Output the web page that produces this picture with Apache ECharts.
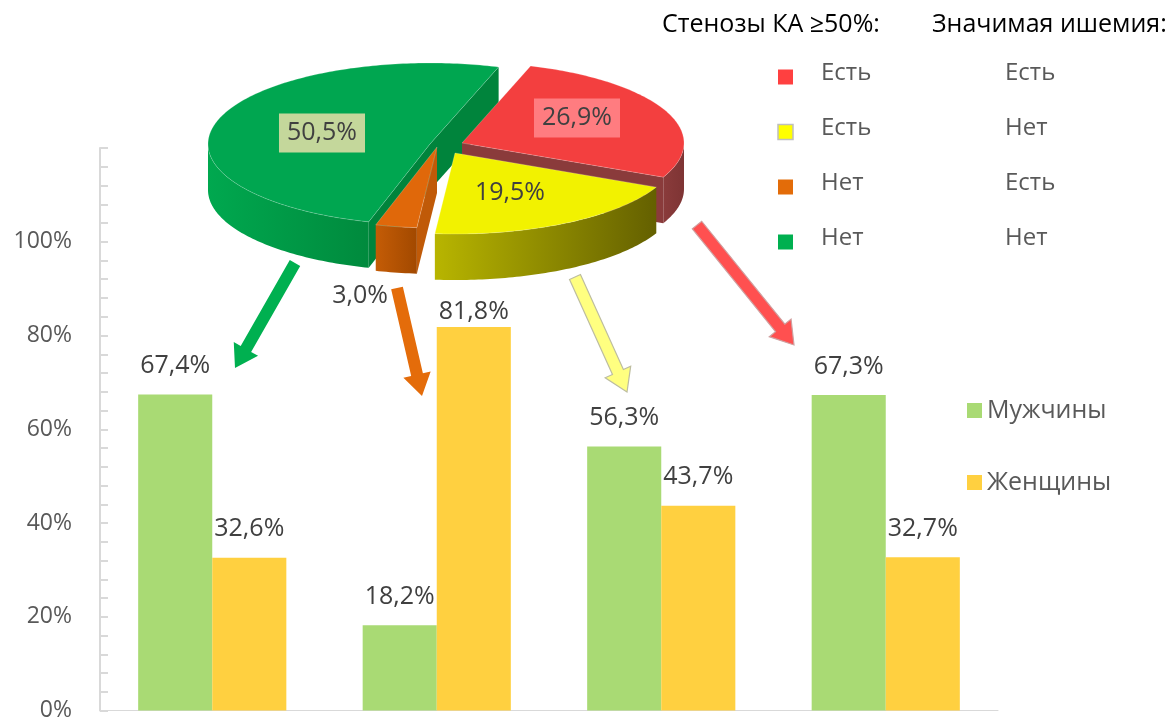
<!DOCTYPE html>
<html><head><meta charset="utf-8">
<script src="https://cdn.jsdelivr.net/npm/echarts@6/dist/echarts.min.js"></script>
<style>html,body{margin:0;padding:0;background:#fff}#c{width:1171px;height:722px}</style>
</head><body><div id="c"></div>
<script>
// ---------- DATA ----------
const categories = ['Нет / Нет', 'Нет / Есть', 'Есть / Нет', 'Есть / Есть'];
const men = [67.4, 18.2, 56.3, 67.3];
const women = [32.6, 81.8, 43.7, 32.7];
const seriesNames = ['Мужчины', 'Женщины'];
const yTickLabels = ['0%', '20%', '40%', '60%', '80%', '100%'];

const pieValues = [26.9, 19.5, 3.0, 50.5];
const pieStenosis = ['Есть', 'Есть', 'Нет', 'Нет'];
const pieIschemia = ['Есть', 'Нет', 'Есть', 'Нет'];
const tableHeaders = ['Стенозы КА ≥50%:', 'Значимая ишемия:'];

// ---------- STYLE ----------
const FONT = '"Open Sans", "Noto Sans", sans-serif';
const fmt = v => v.toFixed(1).replace('.', ',') + '%';
const PIE = {
  R: 222, r: 81, depth: 46, start: 18,
  slices: [
    {cx: 462, cy: 143, top: '#F33F3F', wall: ['#8A3B3B', '#7E3434'], side: '#8A3B3B', label: [115, -25], labelBg: '#FF7C80', z: 2},
    {cx: 455, cy: 153, top: '#F2F200', wall: ['#B8B500', '#646000'], side: '#8E8C00', label: [55, 40], labelBg: null, z: 3},
    {cx: 437, cy: 147, top: '#E0680A', wall: ['#C45C06', '#A24900'], side: '#C05A08', label: [-77, 149], labelBg: null, z: 4},
    {cx: 430, cy: 144, top: '#00A650', wall: ['#00A84F', '#008A3D'], side: '#00843C', label: [-108, -11], labelBg: '#C4D79B', z: 1}
  ]
};
const legendColors = ['#FF4040', '#FFFF00', '#E36C09', '#00B050'];
const ARROWS = [
  {from: [295, 263], to: [235, 368], color: '#00B050', stroke: null},
  {from: [397, 288], to: [422, 396], color: '#E46C0A', stroke: null},
  {from: [575, 277], to: [627, 392], color: '#FFFF80', stroke: '#BDBDA0'},
  {from: [697, 225], to: [794, 345], color: '#FF5050', stroke: '#D0A0A0'}
];

function arrowPoints(a) {
  const dx = a.to[0] - a.from[0], dy = a.to[1] - a.from[1];
  const L = Math.hypot(dx, dy), ux = dx / L, uy = dy / L, nx = -uy, ny = ux;
  const w = 6, hw = 14, hl = 22;
  const bx = a.to[0] - ux * hl, by = a.to[1] - uy * hl;
  return [
    [a.from[0] + nx * w, a.from[1] + ny * w],
    [bx + nx * w, by + ny * w],
    [bx + nx * hw, by + ny * hw],
    a.to,
    [bx - nx * hw, by - ny * hw],
    [bx - nx * w, by - ny * w],
    [a.from[0] - nx * w, a.from[1] - ny * w]
  ];
}

function renderPie(params, api) {
  const i = params.dataIndex;
  const total = pieValues.reduce((a, b) => a + b, 0);
  let cum = 0; for (let k = 0; k < i; k++) cum += pieValues[k];
  const v = api.value(0);
  const a0 = PIE.start + 360 * cum / total, a1 = a0 + 360 * v / total;
  const s = PIE.slices[i], D = PIE.depth;
  const P = (deg, dz) => { const t = deg * Math.PI / 180; return [s.cx + PIE.R * Math.sin(t), s.cy - PIE.r * Math.cos(t) + (dz || 0)]; };
  const C = [s.cx, s.cy], Cd = [s.cx, s.cy + D];
  const base = s.z * 10;
  const ch = [];
  if (Math.sin(a0 * Math.PI / 180) < 0) ch.push({type: 'polygon', z2: base + 1, shape: {points: [C, P(a0), P(a0, D), Cd]}, style: {fill: s.side}});
  if (Math.sin(a1 * Math.PI / 180) > 0) ch.push({type: 'polygon', z2: base + 1, shape: {points: [C, P(a1), P(a1, D), Cd]}, style: {fill: s.side}});
  [[90, 270], [450, 630]].forEach(([lo, hi]) => {
    const b0 = Math.max(a0, lo), b1 = Math.min(a1, hi);
    if (b1 > b0) {
      const up = [], dn = [];
      for (let d = b0; d < b1; d += 1) { up.push(P(d)); dn.push(P(d, D)); }
      up.push(P(b1)); dn.push(P(b1, D));
      ch.push({type: 'polygon', z2: base + 2, shape: {points: up.concat(dn.reverse())},
        style: {fill: new echarts.graphic.LinearGradient(0, 0, 1, 0, [{offset: 0, color: s.wall[0]}, {offset: 1, color: s.wall[1]}])}});
    }
  });
  const top = [C];
  for (let d = a0; d < a1; d += 1) top.push(P(d));
  top.push(P(a1));
  ch.push({type: 'polygon', z2: base + 3, shape: {points: top}, style: {fill: s.top, stroke: 'rgba(255,255,255,0.35)', lineWidth: 0.6}});
  const ts = {text: fmt(v), x: s.cx + s.label[0], y: s.cy + s.label[1], align: 'center', verticalAlign: 'middle',
    fill: '#404040', font: '25px ' + FONT};
  if (s.labelBg) { ts.backgroundColor = s.labelBg; ts.padding = [8, 8, 6, 8]; }
  ch.push({type: 'text', z2: 200, style: ts});
  return {type: 'group', children: ch};
}

const graphics = [];
ARROWS.forEach(a => graphics.push({type: 'polygon', z: 10, shape: {points: arrowPoints(a)},
  style: {fill: a.color, stroke: a.stroke || a.color, lineWidth: a.stroke ? 1.2 : 0}}));
graphics.push({type: 'text', left: 662, top: 12, style: {text: tableHeaders[0], fill: '#000', font: '25px ' + FONT}});
graphics.push({type: 'text', left: 932, top: 12, style: {text: tableHeaders[1], fill: '#000', font: '25px ' + FONT}});
pieStenosis.forEach((t, i) => {
  const yc = 77 + i * 55;
  graphics.push({type: 'rect', shape: {x: 778, y: yc - 7.5, width: 15, height: 15},
    style: {fill: legendColors[i], stroke: i === 1 ? '#BFBFBF' : null, lineWidth: i === 1 ? 1.5 : 0}});
  graphics.push({type: 'text', left: 821, top: yc - 16, style: {text: t, fill: '#595959', font: '24px ' + FONT}});
  graphics.push({type: 'text', left: 1005, top: yc - 16, style: {text: pieIschemia[i], fill: '#595959', font: '24px ' + FONT}});
});

const chart = echarts.init(document.getElementById('c'));
chart.setOption({
  animation: false,
  backgroundColor: '#fff',
  textStyle: {fontFamily: FONT},
  grid: {left: 100, right: 173, top: 148, bottom: 6, containLabel: false},
  legend: {
    data: seriesNames, orient: 'vertical', left: 962, top: 393, itemGap: 47,
    itemWidth: 15, itemHeight: 15, icon: 'rect',
    textStyle: {fontSize: 25, color: '#595959', fontFamily: FONT}
  },
  xAxis: {
    type: 'category', data: categories,
    axisLine: {show: true, lineStyle: {color: '#D9D9D9', width: 1}},
    axisTick: {show: false}, axisLabel: {show: false}
  },
  yAxis: {
    type: 'value', min: 0, max: 120, interval: 20,
    axisLine: {show: true, lineStyle: {color: '#D9D9D9', width: 2}},
    axisTick: {show: true, inside: true, length: 8, lineStyle: {color: '#D9D9D9', width: 2}},
    minorTick: {show: true, splitNumber: 5, length: 8, lineStyle: {color: '#D9D9D9', width: 2}},
    splitLine: {show: false},
    axisLabel: {margin: 28, fontSize: 23, color: '#595959', fontFamily: FONT,
      formatter: v => yTickLabels[v / 20] || ''}
  },
  graphic: graphics,
  series: [
    {
      name: seriesNames[0], type: 'bar', data: men, barGap: '0%', barCategoryGap: '34%',
      itemStyle: {color: '#A9DA74'},
      label: {show: true, position: 'top', distance: 16, fontSize: 25, color: '#404040', fontFamily: FONT, formatter: p => fmt(p.value)}
    },
    {
      name: seriesNames[1], type: 'bar',
      data: women.map((v, i) => i === 1 ? {value: v, label: {distance: 3}} : v),
      barGap: '0%', barCategoryGap: '34%',
      itemStyle: {color: '#FFD040'},
      label: {show: true, position: 'top', distance: 16, fontSize: 25, color: '#404040', fontFamily: FONT, formatter: p => fmt(p.value)}
    },
    {
      name: 'pie', type: 'custom', coordinateSystem: 'none', silent: true, z: 5,
      renderItem: renderPie,
      data: pieValues.map(v => ({value: [v]}))
    }
  ]
});
</script></body></html>
